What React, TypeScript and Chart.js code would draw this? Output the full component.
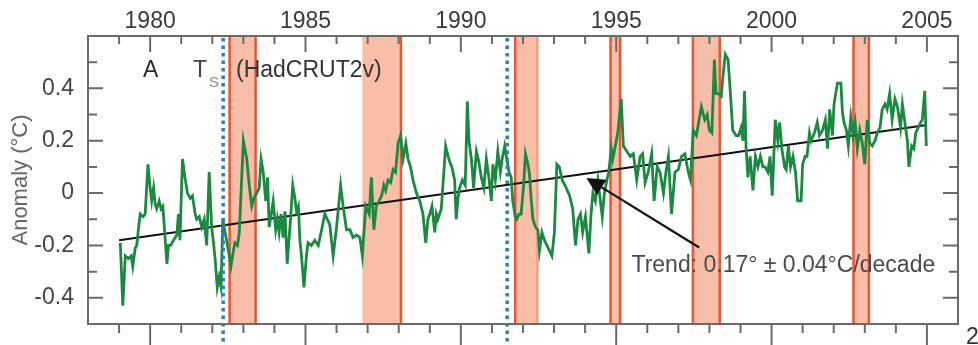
import React, { useEffect, useRef } from 'react';
import { Chart, registerables } from 'chart.js';

Chart.register(...registerables);

// ---- data ----
const anomalyYears = [
  1979.04, 1979.12, 1979.2, 1979.3, 1979.39, 1979.44, 1979.52, 1979.57, 1979.62, 1979.68, 1979.77, 1979.84, 1979.93,
  1980.0, 1980.05, 1980.11, 1980.16, 1980.21, 1980.29, 1980.35, 1980.41, 1980.48, 1980.54, 1980.59, 1980.66, 1980.75, 1980.86, 1980.91, 1980.96,
  1981.04, 1981.12, 1981.2, 1981.29, 1981.36, 1981.45, 1981.5, 1981.58, 1981.66, 1981.74, 1981.82, 1981.9, 1981.98,
  1982.03, 1982.09, 1982.16, 1982.22, 1982.28, 1982.34, 1982.41, 1982.46, 1982.55, 1982.6, 1982.68, 1982.73, 1982.81, 1982.87,
  1983.0, 1983.11, 1983.19, 1983.27, 1983.34, 1983.43, 1983.51, 1983.57, 1983.64, 1983.72, 1983.78, 1983.83, 1983.91, 1983.96,
  1984.04, 1984.09, 1984.15, 1984.21, 1984.28, 1984.34, 1984.41, 1984.5, 1984.59, 1984.66, 1984.71, 1984.77, 1984.82, 1984.87, 1984.95,
  1985.03, 1985.08, 1985.19, 1985.3, 1985.41, 1985.52, 1985.62, 1985.78, 1985.89,
  1986.0, 1986.13, 1986.21, 1986.32, 1986.43, 1986.53, 1986.64, 1986.75, 1986.83, 1986.94,
  1987.05, 1987.12, 1987.2, 1987.28, 1987.37, 1987.45, 1987.52, 1987.58, 1987.66, 1987.74, 1987.82, 1987.9, 1987.98,
  1988.06, 1988.14, 1988.23, 1988.3, 1988.38, 1988.46, 1988.57, 1988.68, 1988.78, 1988.87, 1988.94,
  1989.0, 1989.07, 1989.16, 1989.21, 1989.26, 1989.37, 1989.51, 1989.59, 1989.64, 1989.71, 1989.8, 1989.85, 1989.91, 1989.96,
  1990.05, 1990.14, 1990.21, 1990.26, 1990.34, 1990.41, 1990.5, 1990.58, 1990.66, 1990.74, 1990.82, 1990.9, 1990.98,
  1991.03, 1991.11, 1991.19, 1991.27, 1991.33, 1991.41, 1991.48, 1991.55, 1991.62, 1991.67, 1991.75, 1991.8, 1991.87, 1991.94,
  1992.02, 1992.08, 1992.16, 1992.21, 1992.26, 1992.32, 1992.4, 1992.48, 1992.53, 1992.61, 1992.69, 1992.77, 1992.85, 1992.93,
  1993.01, 1993.09, 1993.17, 1993.26, 1993.39, 1993.5, 1993.6, 1993.69, 1993.77, 1993.85, 1993.92,
  1994.01, 1994.12, 1994.19, 1994.25, 1994.33, 1994.41, 1994.46, 1994.55, 1994.62, 1994.7, 1994.76, 1994.84, 1994.89, 1994.97,
  1995.05, 1995.16, 1995.23, 1995.34, 1995.45, 1995.55, 1995.66, 1995.77, 1995.85, 1995.93,
  1996.03, 1996.14, 1996.22, 1996.32, 1996.41, 1996.52, 1996.6, 1996.68, 1996.78, 1996.89,
  1997.0, 1997.1, 1997.21, 1997.32, 1997.39, 1997.48, 1997.58, 1997.74, 1997.85, 1997.93,
  1998.0, 1998.08, 1998.16, 1998.21, 1998.29, 1998.38, 1998.43, 1998.51, 1998.6, 1998.67, 1998.75, 1998.86, 1998.94,
  1999.02, 1999.08, 1999.13, 1999.18, 1999.24, 1999.31, 1999.4, 1999.48, 1999.56, 1999.64, 1999.72, 1999.79, 1999.88, 1999.95,
  2000.02, 2000.12, 2000.2, 2000.26, 2000.33, 2000.42, 2000.47, 2000.54, 2000.61, 2000.69, 2000.77, 2000.84, 2000.95,
  2001.0, 2001.08, 2001.14, 2001.22, 2001.27, 2001.38, 2001.47, 2001.54, 2001.64, 2001.73, 2001.8, 2001.87, 2001.96,
  2002.01, 2002.12, 2002.23, 2002.28, 2002.33, 2002.41, 2002.47, 2002.55, 2002.62, 2002.69, 2002.76, 2002.84, 2002.92,
  2003.0, 2003.08, 2003.16, 2003.24, 2003.33, 2003.4, 2003.49, 2003.56, 2003.65, 2003.72, 2003.8, 2003.88, 2003.97,
  2004.05, 2004.15, 2004.21, 2004.29, 2004.37, 2004.42, 2004.51, 2004.58, 2004.64, 2004.72, 2004.8, 2004.85, 2004.93, 2004.98,
];

const anomalyValues = [
  -0.19, -0.43, -0.24, -0.25, -0.24, -0.28, -0.21, -0.2, -0.14, -0.08, -0.09, -0.08, 0.11,
  0.02, -0.03, 0.02, -0.04, -0.06, -0.03, -0.06, -0.05, -0.17, -0.27, -0.2, -0.2, -0.18, -0.16, -0.08, -0.18,
  0.13, 0.06, 0.0, -0.02, -0.01, -0.08, -0.1, -0.09, -0.13, -0.1, -0.2, 0.08, -0.13,
  -0.18, -0.25, -0.36, -0.32, -0.36, -0.1, -0.15, -0.18, -0.24, -0.28, -0.22, -0.19, -0.2, -0.15,
  0.2, 0.13, 0.03, -0.05, -0.02, 0.0, 0.02, 0.13, 0.08, -0.03, 0.06, -0.13, -0.07, -0.03,
  -0.14, -0.1, -0.15, -0.08, -0.17, -0.07, -0.27, -0.13, 0.03, -0.02, -0.07, -0.05, -0.18, -0.24, -0.36,
  -0.24, -0.19, -0.2, -0.18, -0.2, -0.14, -0.08, -0.12, -0.24,
  -0.13, 0.03, -0.05, -0.14, -0.14, -0.17, -0.16, -0.17, -0.24, -0.05,
  -0.08, 0.06, -0.14, -0.05, -0.03, -0.01, 0.03, 0.01, 0.05, 0.04, 0.09, 0.08, 0.19,
  0.22, 0.13, 0.19, 0.13, 0.1, 0.05, 0.0, -0.03, -0.08, -0.19, -0.1,
  -0.08, -0.05, -0.15, -0.08, -0.1, -0.06, 0.18, 0.14, 0.12, 0.1, 0.05, -0.1, -0.02, 0.02,
  0.05, 0.03, 0.35, 0.2, 0.13, 0.02, 0.16, 0.12, 0.06, 0.02, 0.13, 0.06, -0.03,
  0.11, 0.05, 0.16, 0.08, 0.13, 0.18, 0.13, 0.08, 0.06, -0.03, -0.09, -0.1, -0.08, -0.08,
  0.03, 0.15, 0.11, 0.07, -0.02, -0.1, -0.13, -0.14, -0.22, -0.15, -0.18, -0.2, -0.22, -0.24,
  -0.15, 0.11, 0.1, 0.05, 0.02, -0.01, -0.06, -0.2, -0.1, -0.08, -0.15,
  -0.09, -0.23, -0.08, 0.0, -0.03, 0.05, 0.0, -0.09, 0.0, 0.05, 0.08, 0.17, 0.13, 0.18,
  0.23, 0.36, 0.18, 0.16, 0.14, 0.15, 0.05, 0.14, 0.15, 0.04,
  0.08, 0.15, -0.03, 0.1, 0.08, 0.0, 0.08, 0.14, -0.08, 0.08,
  0.09, 0.14, 0.15, 0.08, 0.05, 0.24, 0.22, 0.33, 0.28, 0.3,
  0.24, 0.23, 0.51, 0.38, 0.38, 0.37, 0.44, 0.53, 0.51, 0.39, 0.24, 0.22, 0.22,
  0.25, 0.2, 0.39, 0.17, 0.06, 0.14, 0.01, 0.14, 0.1, 0.14, 0.1, 0.1, 0.08, 0.14,
  -0.01, 0.28, 0.2, 0.27, 0.17, 0.1, 0.09, 0.18, 0.1, 0.14, 0.08, -0.03, -0.03,
  0.11, 0.14, 0.14, 0.23, 0.2, 0.23, 0.27, 0.22, 0.24, 0.28, 0.17, 0.32, 0.22,
  0.34, 0.42, 0.42, 0.31, 0.27, 0.24, 0.18, 0.29, 0.22, 0.27, 0.17, 0.24, 0.19,
  0.11, 0.28, 0.19, 0.18, 0.2, 0.23, 0.25, 0.32, 0.34, 0.32, 0.38, 0.28, 0.36,
  0.33, 0.25, 0.34, 0.27, 0.2, 0.1, 0.18, 0.17, 0.23, 0.25, 0.27, 0.28, 0.39, 0.18,
];

const trendYears = [1979.0, 2005.0];
const trendValues = [-0.18, 0.26];

// shaded event periods (start / end, decimal years)
const eventStartYears = [1982.52, 1986.83, 1991.71, 1994.78, 1997.43, 2002.6];
const eventEndYears = [1983.43, 1988.11, 1992.5, 1995.16, 1998.37, 2003.17];

// volcanic eruptions (dotted lines)
const volcanoYears = [1982.35, 1991.49];

const xTickYears = [1980, 1985, 1990, 1995, 2000, 2005];
const yTickValues = [-0.4, -0.2, 0, 0.2, 0.4];

const trendLabel = 'Trend: 0.17° ± 0.04°C/decade';

// ---- styles ----
const FONT = '"Liberation Sans", Arial, Helvetica, sans-serif';
const FRAME = '#6a6a6a';
const BAND_FILL = '#f9bea8';
const BAND_EDGE = '#ec5636';
const BAND_EDGE_LIGHT = '#f59a7e';
// [left edge, right edge] style per band: 2 = strong, 1 = light, 0 = none
const bandEdges = [[2, 2], [0, 2], [2, 1], [2, 2], [2, 2], [2, 2]];

const overlay = {
  id: 'overlay',
  beforeDatasetsDraw(chart: any) {
    const { ctx, chartArea: a, scales } = chart;
    const xs = scales.x;
    ctx.save();
    eventStartYears.forEach((s, i) => {
      const x0 = xs.getPixelForValue(s);
      const x1 = xs.getPixelForValue(eventEndYears[i]);
      ctx.fillStyle = BAND_FILL;
      ctx.fillRect(x0, a.top, x1 - x0, a.bottom - a.top);
      const [le, re] = bandEdges[i];
      const edge = (px: number, st: number) => {
        if (!st) return;
        ctx.strokeStyle = st === 2 ? BAND_EDGE : BAND_EDGE_LIGHT;
        ctx.lineWidth = st === 2 ? 2.5 : 2;
        ctx.beginPath();
        ctx.moveTo(px, a.top);
        ctx.lineTo(px, a.bottom);
        ctx.stroke();
      };
      edge(x0 + 1.2, le);
      edge(x1 - 1.2, re);
    });
    ctx.restore();
  },
  afterDatasetsDraw(chart: any) {
    const { ctx, chartArea: a, scales, width, height } = chart;
    const xs = scales.x;
    const ys = scales.y;
    ctx.save();

    // volcano dotted lines
    ctx.strokeStyle = '#2f7cc4';
    ctx.lineWidth = 3.5;
    ctx.setLineDash([3.5, 4]);
    volcanoYears.forEach((v) => {
      const px = xs.getPixelForValue(v);
      ctx.beginPath();
      ctx.moveTo(px, a.top + 2);
      ctx.lineTo(px, height);
      ctx.stroke();
    });
    ctx.setLineDash([]);

    // frame
    ctx.strokeStyle = FRAME;
    ctx.lineWidth = 2;
    ctx.strokeRect(a.left, a.top, a.right - a.left, a.bottom - a.top);

    // ticks
    ctx.lineWidth = 2;
    for (let yr = 1979; yr <= 2005; yr++) {
      const px = xs.getPixelForValue(yr);
      const major = yr % 5 === 0;
      ctx.beginPath();
      ctx.moveTo(px, a.top);
      ctx.lineTo(px, a.top + (major ? 16 : 8));
      ctx.moveTo(px, a.bottom);
      ctx.lineTo(px, major ? height : a.bottom + 9);
      ctx.stroke();
    }
    for (let k = -4; k <= 5; k++) {
      const v = k / 10;
      const py = ys.getPixelForValue(v);
      const major = k % 2 === 0;
      const len = major ? 15 : 9;
      ctx.beginPath();
      ctx.moveTo(a.left, py);
      ctx.lineTo(a.left + len, py);
      ctx.moveTo(a.right, py);
      ctx.lineTo(a.right - len, py);
      ctx.stroke();
    }

    // panel labels
    ctx.textBaseline = 'alphabetic';
    ctx.textAlign = 'left';
    ctx.font = `23px ${FONT}`;
    ctx.fillStyle = '#2a2a2a';
    ctx.fillText('A', a.left + 55, a.top + 41);
    ctx.fillStyle = '#444';
    ctx.fillText('T', a.left + 105, a.top + 41);
    ctx.fillStyle = '#333';
    ctx.fillText('(HadCRUT2v)', a.left + 148, a.top + 41);
    ctx.font = `15px ${FONT}`;
    ctx.fillStyle = '#8a8a8a';
    ctx.fillText('S', a.left + 121, a.top + 51);

    // trend arrow
    const tail = { x: xs.getPixelForValue(1997.67), y: ys.getPixelForValue(-0.208) };
    const tip = { x: xs.getPixelForValue(1994.04), y: ys.getPixelForValue(0.058) };
    const dx = tip.x - tail.x;
    const dy = tip.y - tail.y;
    const len = Math.hypot(dx, dy);
    const ux = dx / len;
    const uy = dy / len;
    const headL = 18;
    const headW = 9;
    const bx = tip.x - ux * headL;
    const by = tip.y - uy * headL;
    ctx.strokeStyle = '#111';
    ctx.lineWidth = 2.2;
    ctx.beginPath();
    ctx.moveTo(tail.x, tail.y);
    ctx.lineTo(bx, by);
    ctx.stroke();
    ctx.fillStyle = '#111';
    ctx.beginPath();
    ctx.moveTo(tip.x, tip.y);
    ctx.lineTo(bx - uy * headW, by + ux * headW);
    ctx.lineTo(bx + uy * headW, by - ux * headW);
    ctx.closePath();
    ctx.fill();

    // trend text
    ctx.font = `23px ${FONT}`;
    ctx.fillStyle = '#4a4a4a';
    ctx.fillText(trendLabel, xs.getPixelForValue(1995.49), ys.getPixelForValue(-0.302));

    // cropped label from the panel below
    ctx.fillStyle = '#333';
    ctx.fillText('2', width - 12, height - 1);

    ctx.restore();
  },
};

export default function App() {
  const ref = useRef<HTMLCanvasElement | null>(null);

  useEffect(() => {
    if (!ref.current) return;
    const chart = new Chart(ref.current, {
      type: 'line',
      data: {
        datasets: [
          {
            label: 'HadCRUT2v',
            data: anomalyYears.map((x, i) => ({ x, y: anomalyValues[i] })),
            borderColor: '#1a8a40',
            borderWidth: 2.8,
            pointRadius: 0,
            tension: 0,
            fill: false,
          },
          {
            label: 'Trend',
            data: trendYears.map((x, i) => ({ x, y: trendValues[i] })),
            borderColor: '#111111',
            borderWidth: 2.2,
            pointRadius: 0,
            tension: 0,
            fill: false,
          },
        ],
      },
      options: {
        responsive: false,
        animation: false,
        events: [],
        layout: { padding: { left: 0, top: 0, right: 20, bottom: 21 } },
        plugins: {
          legend: { display: false },
          tooltip: { enabled: false },
        },
        scales: {
          x: {
            type: 'linear',
            position: 'top',
            min: 1978,
            max: 2006,
            afterBuildTicks: (s: any) => {
              s.ticks = xTickYears.map((v) => ({ value: v }));
            },
            afterFit: (s: any) => {
              s.height = 36;
              s.paddingLeft = 0;
              s.paddingRight = 0;
              s.paddingTop = 0;
              s.paddingBottom = 0;
            },
            grid: { display: false, drawTicks: false },
            border: { display: false },
            ticks: {
              padding: 1,
              autoSkip: false,
              maxRotation: 0,
              color: '#3a3a3a',
              font: { family: FONT, size: 23 },
              callback: (v: any) => String(v),
            },
          },
          y: {
            type: 'linear',
            min: -0.5,
            max: 0.6,
            afterBuildTicks: (s: any) => {
              s.ticks = yTickValues.map((v) => ({ value: v }));
            },
            afterFit: (s: any) => {
              s.width = 88;
              s.paddingLeft = 0;
              s.paddingRight = 0;
              s.paddingTop = 0;
              s.paddingBottom = 0;
            },
            grid: { display: false, drawTicks: false },
            border: { display: false },
            ticks: {
              padding: 14,
              color: '#444',
              font: { family: FONT, size: 23 },
              callback: (v: any) => (Number(v) === 0 ? '0' : Number(v).toFixed(1)),
            },
            title: {
              display: true,
              text: 'Anomaly (°C)',
              color: '#666',
              font: { family: FONT, size: 22 },
              padding: { top: 8, bottom: 0 },
            },
          },
        },
      },
      plugins: [overlay],
    });
    return () => chart.destroy();
  }, []);

  return (
    <div style={{ position: 'fixed', left: 0, top: 0, width: 978, height: 345, background: '#fff' }}>
      <canvas ref={ref} width={978} height={345} style={{ display: 'block' }} />
    </div>
  );
}
